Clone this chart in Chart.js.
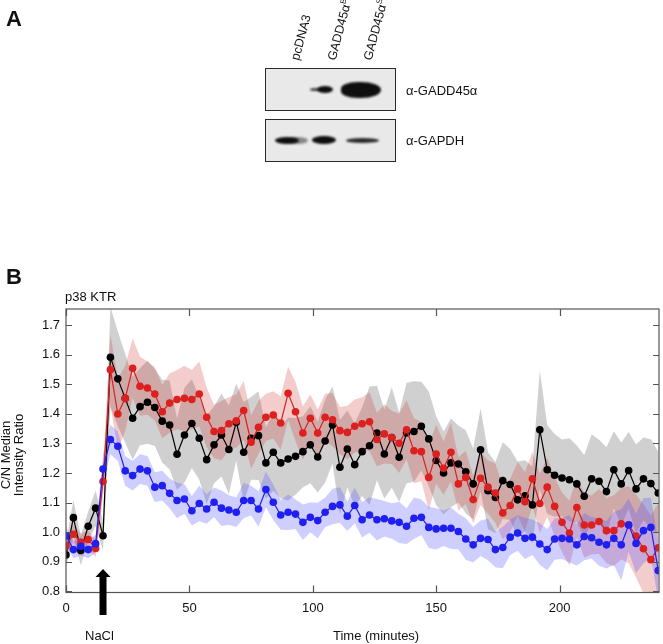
<!DOCTYPE html>
<html>
<head>
<meta charset="utf-8">
<script src="https://cdn.jsdelivr.net/npm/chart.js@4.4.1/dist/chart.umd.min.js"></script>
<style>
  html, body { margin: 0; padding: 0; background: #fff; }
  body { width: 663px; height: 644px; position: relative; overflow: hidden;
         font-family: "Liberation Sans", Arial, Helvetica, sans-serif; color: #111; }
  #chart { position: absolute; left: 0; top: 0; }
  .txt { position: absolute; white-space: nowrap; font-size: 13px; line-height: 13px; }
  .panel { position: absolute; font-weight: bold; font-size: 22px; line-height: 22px; }
  .lane { position: absolute; font-size: 12.5px; line-height: 14px; white-space: nowrap;
          transform-origin: 0 50%; transform: rotate(-75deg); }
  .lane sup { font-size: 8px; }
  .blot { position: absolute; border: 1.6px solid #2a2a2a; background: #e9e9e9; box-sizing: border-box; overflow: hidden; }
  .band { position: absolute; background: #0e0e0e; border-radius: 50%; filter: blur(1.1px); }
</style>
</head>
<body>
<canvas id="chart" width="663" height="644"></canvas>

<div class="panel" style="left:6px; top:8px;">A</div>
<div class="lane" style="left:295px; top:53px;">pcDNA3</div>
<div class="lane" style="left:330px; top:51px;">GADD45α<sup>B</sup></div>
<div class="lane" style="left:366px; top:51px;">GADD45α<sup>S</sup></div>

<div class="blot" style="left:265px; top:68px; width:131px; height:43px;">
  <div class="band" style="left:44px; top:19px; width:10px; height:3px; background:#444;"></div>
  <div class="band" style="left:51px; top:17px; width:16px; height:7px;"></div>
  <div class="band" style="left:75px; top:13px; width:40px; height:16px; border-radius:45% 55% 55% 45%;"></div>
</div>
<div class="blot" style="left:265px; top:119px; width:131px; height:43px;">
  <div class="band" style="left:22px; top:17px; width:20px; height:7px; background:#888;"></div>
  <div class="band" style="left:9px; top:17px; width:24px; height:7px;"></div>
  <div class="band" style="left:46px; top:16px; width:24px; height:8px;"></div>
  <div class="band" style="left:80px; top:18px; width:33px; height:5px; background:#2a2a2a;"></div>
</div>
<div class="txt" style="left:406px; top:84px;">α-GADD45α</div>
<div class="txt" style="left:406px; top:134px;">α-GAPDH</div>

<div class="panel" style="left:6px; top:266px;">B</div>
<div class="txt" style="left:65px; top:290px;">p38 KTR</div>
<div class="txt" style="left:85px; top:629px;">NaCl</div>
<div class="txt" style="left:333px; top:629px;">Time (minutes)</div>

<script>
// sampling times (minutes)
const times = [0,3,6,9,12,15,18,21,24,27,30,33,36,39,42,45,48,51,54,57,60,63,66,69,72,75,78,81,84,87,90,93,96,99,102,105,108,111,114,117,120,123,126,129,132,135,138,141,144,147,150,153,156,159,162,165,168,171,174,177,180,183,186,189,192,195,198,201,204,207,210,213,216,219,222,225,228,231,234,237,240];

// C/N median intensity ratio, pcDNA3 (black)
const blackVals = [0.923,1.049,0.938,1.020,1.081,0.988,1.591,1.518,1.452,1.385,1.424,1.439,1.421,1.375,
  1.362,1.263,1.328,1.367,1.317,1.245,1.295,1.328,1.279,1.371,1.270,1.317,1.326,
  1.234,1.270,1.234,1.247,1.256,1.272,1.295,1.254,1.308,1.362,1.219,1.281,1.228,
  1.272,1.292,1.335,1.264,1.320,1.253,1.335,1.340,1.358,1.315,1.242,1.200,1.234,
  1.230,1.204,1.163,1.278,1.140,1.117,1.174,1.161,1.109,1.123,1.092,1.346,1.211,
  1.192,1.183,1.177,1.163,1.121,1.180,1.172,1.137,1.211,1.163,1.208,1.146,1.180,1.164,1.132];
const redVals = [0.954,0.993,0.966,0.975,0.945,1.171,1.549,1.399,1.452,1.554,1.493,1.487,1.467,1.407,
  1.436,1.448,1.452,1.448,1.467,1.388,1.340,1.343,1.366,1.376,1.411,1.304,1.354,
  1.388,1.396,1.369,1.469,1.407,1.335,1.385,1.335,1.388,1.380,1.343,1.337,1.358,
  1.366,1.373,1.313,1.332,1.320,1.300,1.346,1.275,1.272,1.185,1.264,1.216,1.270,
  1.163,1.185,1.110,1.182,1.152,1.132,1.065,1.090,1.146,1.103,1.180,1.097,1.152,
  1.087,1.033,0.997,1.083,1.024,1.024,1.036,1.005,1.005,1.028,1.025,0.987,0.944,0.907,0.947];
const blueVals = [0.988,0.941,0.952,0.941,0.961,1.213,1.313,1.290,1.207,1.191,1.213,1.207,1.152,1.157,
  1.131,1.107,1.112,1.072,1.097,1.078,1.101,1.081,1.075,1.067,1.107,1.107,1.078,
  1.144,1.101,1.058,1.067,1.061,1.033,1.050,1.039,1.067,1.087,1.092,1.054,1.090,
  1.042,1.058,1.042,1.045,1.038,1.033,1.020,1.047,1.050,1.016,1.011,1.013,1.013,
  1.002,0.977,0.957,0.979,0.975,0.941,0.948,0.983,0.997,0.979,0.983,0.960,0.941,
  0.977,0.979,0.977,0.957,0.985,0.981,0.966,0.957,0.979,0.957,1.024,0.962,1.005,1.016,0.870];

// half-width of the shaded bands
const blackErr = [0.04,0.06,0.05,0.05,0.06,0.05,0.17,0.16,0.15,0.14,0.13,0.14,0.13,0.14,
  0.15,0.12,0.16,0.15,0.14,0.15,0.13,0.14,0.15,0.13,0.17,0.14,0.15,
  0.12,0.13,0.12,0.14,0.13,0.12,0.13,0.12,0.14,0.13,0.16,0.13,0.14,
  0.15,0.20,0.16,0.15,0.17,0.15,0.17,0.17,0.15,0.16,0.15,0.14,0.15,
  0.13,0.14,0.12,0.14,0.13,0.12,0.13,0.12,0.13,0.12,0.13,0.20,0.15,
  0.14,0.13,0.14,0.13,0.14,0.15,0.14,0.15,0.13,0.14,0.13,0.15,0.14,0.15,0.14];
const redErr = [0.03,0.03,0.03,0.03,0.03,0.05,0.12,0.12,0.11,0.10,0.10,0.09,0.09,0.09,
  0.10,0.10,0.11,0.10,0.11,0.10,0.09,0.10,0.09,0.09,0.10,0.09,0.09,
  0.08,0.08,0.09,0.09,0.10,0.09,0.08,0.08,0.08,0.09,0.08,0.09,0.09,
  0.09,0.10,0.09,0.10,0.09,0.10,0.10,0.11,0.10,0.11,0.10,0.09,0.10,
  0.09,0.09,0.08,0.09,0.09,0.10,0.09,0.09,0.09,0.10,0.09,0.10,0.10,
  0.10,0.10,0.11,0.10,0.11,0.10,0.11,0.11,0.12,0.12,0.13,0.14,0.15,0.15,0.15];
const blueErr = [0.03,0.03,0.03,0.03,0.03,0.05,0.05,0.05,0.05,0.05,0.05,0.05,0.05,0.05,
  0.05,0.06,0.05,0.05,0.06,0.05,0.05,0.06,0.05,0.05,0.06,0.05,0.06,
  0.06,0.06,0.05,0.06,0.05,0.06,0.05,0.06,0.05,0.06,0.06,0.05,0.06,
  0.06,0.06,0.07,0.06,0.06,0.07,0.06,0.07,0.06,0.07,0.07,0.06,0.07,
  0.06,0.07,0.06,0.06,0.07,0.06,0.07,0.06,0.06,0.07,0.06,0.07,0.07,
  0.07,0.07,0.08,0.07,0.08,0.07,0.08,0.08,0.09,0.12,0.09,0.10,0.11,0.10,0.10];

const naclTime = 15;
const xTicks = [0, 50, 100, 150, 200];
const yTicks = [0.8, 0.9, 1.0, 1.1, 1.2, 1.3, 1.4, 1.5, 1.6, 1.7];

function pts(vals, err, sign) {
  return times.map((t, i) => ({ x: t, y: vals[i] + sign * (err ? err[i] : 0) }));
}

function band(vals, err, sign, color, order, target) {
  return {
    data: pts(vals, err, sign),
    borderWidth: 0,
    pointRadius: 0,
    backgroundColor: color,
    fill: target === undefined ? false : target,
    order: order,
  };
}

function line(vals, color, order) {
  return {
    data: pts(vals, null, 0),
    borderColor: color,
    borderWidth: 1.2,
    pointRadius: 3.8,
    pointBackgroundColor: color,
    pointBorderWidth: 0,
    fill: false,
    order: order,
  };
}

// frame with inward ticks, y title and the NaCl arrow
const extras = {
  id: "extras",
  afterDatasetsDraw(chart) {
    const { ctx, chartArea: a, scales } = chart;
    const x = scales.x, y = scales.y;
    ctx.save();
    ctx.strokeStyle = "#555";
    ctx.lineWidth = 1.2;
    ctx.strokeRect(a.left, a.top, a.right - a.left, a.bottom - a.top);
    ctx.beginPath();
    x.ticks.forEach((t) => {
      const px = Math.round(x.getPixelForValue(t.value)) + 0.5;
      ctx.moveTo(px, a.bottom); ctx.lineTo(px, a.bottom - 7);
      ctx.moveTo(px, a.top); ctx.lineTo(px, a.top + 7);
    });
    y.ticks.forEach((t) => {
      const py = Math.round(y.getPixelForValue(t.value)) + 0.5;
      ctx.moveTo(a.left, py); ctx.lineTo(a.left + 6, py);
      ctx.moveTo(a.right, py); ctx.lineTo(a.right - 6, py);
    });
    ctx.stroke();
    ctx.restore();
  },
  afterDraw(chart) {
    const { ctx, scales } = chart;
    ctx.save();
    ctx.fillStyle = "#111";
    ctx.font = '13px "Liberation Sans", Arial, sans-serif';
    ctx.textAlign = "center";
    ctx.textBaseline = "middle";
    ctx.translate(0, 455);
    ctx.rotate(-Math.PI / 2);
    ctx.fillText("C/N Median", 0, 6.5);
    ctx.fillText("Intensity Ratio", 0, 19.5);
    ctx.restore();

    const ax = scales.x.getPixelForValue(naclTime);
    ctx.save();
    ctx.fillStyle = "#000";
    ctx.beginPath();
    ctx.moveTo(ax, 569);
    ctx.lineTo(ax + 7.5, 577);
    ctx.lineTo(ax + 3.5, 577);
    ctx.lineTo(ax + 3.5, 615);
    ctx.lineTo(ax - 3.5, 615);
    ctx.lineTo(ax - 3.5, 577);
    ctx.lineTo(ax - 7.5, 577);
    ctx.closePath();
    ctx.fill();
    ctx.restore();
  },
};

new Chart(document.getElementById("chart").getContext("2d"), {
  type: "line",
  data: {
    datasets: [
      band(blackVals, blackErr, 1, "rgba(120, 120, 120, 0.35)", 6, 1),
      band(blackVals, blackErr, -1, "rgba(120, 120, 120, 0.35)", 6),
      band(redVals, redErr, 1, "rgba(205, 40, 40, 0.24)", 5, 3),
      band(redVals, redErr, -1, "rgba(205, 40, 40, 0.24)", 5),
      band(blueVals, blueErr, 1, "rgba(80, 80, 255, 0.28)", 4, 5),
      band(blueVals, blueErr, -1, "rgba(80, 80, 255, 0.28)", 4),
      line(blackVals, "#000000", 3),
      line(redVals, "#dc1f1f", 2),
      line(blueVals, "#1f1fef", 1),
    ],
  },
  options: {
    responsive: false,
    animation: false,
    devicePixelRatio: 1,
    layout: { padding: { top: 309, right: 3, left: 0, bottom: 0 } },
    elements: { line: { tension: 0 } },
    plugins: {
      legend: { display: false },
      tooltip: { enabled: false },
    },
    scales: {
      x: {
        type: "linear",
        bounds: "data",
        min: 0,
        max: 240.3,
        grid: { display: false, drawTicks: false },
        border: { display: false },
        afterBuildTicks: (s) => { s.ticks = xTicks.map((v) => ({ value: v })); },
        afterFit: (s) => { s.height = 51.5; },
        ticks: {
          padding: 8,
          color: "#111",
          font: { family: '"Liberation Sans", Arial, sans-serif', size: 13 },
          maxRotation: 0,
        },
      },
      y: {
        bounds: "data",
        min: 0.796,
        max: 1.754,
        grid: { display: false, drawTicks: false },
        border: { display: false },
        afterBuildTicks: (s) => { s.ticks = yTicks.map((v) => ({ value: v })); },
        afterFit: (s) => { s.width = 66; },
        ticks: {
          padding: 6,
          color: "#111",
          font: { family: '"Liberation Sans", Arial, sans-serif', size: 13 },
          callback: (v) => v.toFixed(1),
        },
      },
    },
  },
  plugins: [extras],
});
</script>
</body>
</html>
